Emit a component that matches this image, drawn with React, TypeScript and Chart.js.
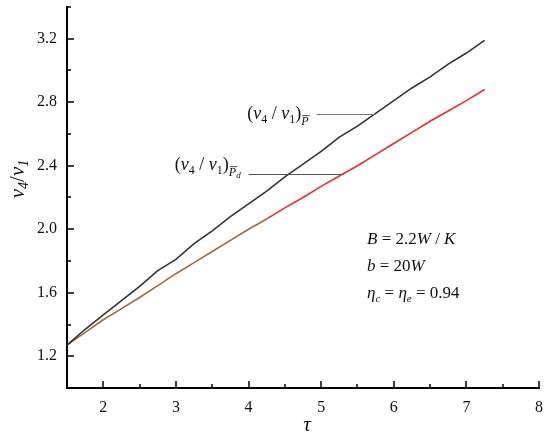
import React, { useEffect, useRef } from 'react';
import { Chart, registerables } from 'chart.js';

Chart.register(...registerables);

const TAU = [1.5, 1.75, 2, 2.25, 2.5, 2.75, 3, 3.25, 3.5, 3.75, 4, 4.25, 4.5, 4.75, 5, 5.25, 5.5, 5.75, 6, 6.25, 6.5, 6.75, 7, 7.25];
const RATIO_P = [1.27, 1.37, 1.46, 1.55, 1.64, 1.74, 1.81, 1.91, 1.99, 2.08, 2.16, 2.24, 2.33, 2.41, 2.49, 2.58, 2.65, 2.73, 2.81, 2.89, 2.96, 3.04, 3.11, 3.19];
const RATIO_PD = [1.27, 1.35, 1.43, 1.5, 1.57, 1.645, 1.72, 1.79, 1.86, 1.93, 2.0, 2.065, 2.135, 2.2, 2.27, 2.335, 2.4, 2.47, 2.54, 2.61, 2.68, 2.745, 2.81, 2.88];
const X_TICKS = [2, 3, 4, 5, 6, 7, 8];
const X_MINOR = [2.5, 3.5, 4.5, 5.5, 6.5, 7.5];
const Y_TICKS = [1.2, 1.6, 2.0, 2.4, 2.8, 3.2];
const Y_MINOR = [1.4, 1.8, 2.2, 2.6, 3.0, 3.4];
const LABEL_P_AT = [5.75, 2.726];
const LABEL_PD_AT = [5.31, 2.348];

const BLACK = '#333333';
const RED = '#ee2a34';
const BROWN = '#a06a3c';
const SERIF = '"Liberation Serif", "Times New Roman", Times, serif';

type Run = { t: string; size: number; italic?: boolean; dy?: number; bar?: boolean; gap?: number };

function runsWidth(ctx: CanvasRenderingContext2D, runs: Run[]) {
  let w = 0;
  for (const r of runs) {
    ctx.font = `${r.italic ? 'italic ' : ''}${r.size}px ${SERIF}`;
    w += ctx.measureText(r.t).width + (r.gap || 0);
  }
  return w;
}

function drawRuns(ctx: CanvasRenderingContext2D, x: number, y: number, runs: Run[]) {
  ctx.textBaseline = 'alphabetic';
  ctx.textAlign = 'left';
  let cx = x;
  for (const r of runs) {
    ctx.font = `${r.italic ? 'italic ' : ''}${r.size}px ${SERIF}`;
    const w = ctx.measureText(r.t).width;
    ctx.fillText(r.t, cx, y + (r.dy || 0));
    if (r.bar) {
      ctx.save();
      ctx.lineWidth = 0.8;
      ctx.strokeStyle = ctx.fillStyle as string;
      ctx.beginPath();
      const by = y + (r.dy || 0) - r.size * 0.78;
      ctx.moveTo(cx + 1, by);
      ctx.lineTo(cx + w + 1, by);
      ctx.stroke();
      ctx.restore();
    }
    cx += w + (r.gap || 0);
  }
  return cx;
}

function ratioLabel(withD: boolean): Run[] {
  const runs: Run[] = [
    { t: '(', size: 18 },
    { t: 'v', size: 18, italic: true },
    { t: '4', size: 12, dy: 4 },
    { t: ' / ', size: 18 },
    { t: 'v', size: 18, italic: true },
    { t: '1', size: 12, dy: 4 },
    { t: ')', size: 18 },
    { t: 'P', size: 12, italic: true, dy: 6, bar: true },
  ];
  if (withD) runs.push({ t: 'd', size: 9, italic: true, dy: 8 });
  return runs;
}

const overlay = {
  id: 'overlay',
  afterDraw(chart: any) {
    const ctx: CanvasRenderingContext2D = chart.ctx;
    const xs = chart.scales.x;
    const ys = chart.scales.y;
    const area = chart.chartArea;
    ctx.save();
    // inward ticks
    ctx.strokeStyle = '#000';
    ctx.lineWidth = 1.5;
    ctx.beginPath();
    for (const v of X_TICKS) {
      const px = Math.round(xs.getPixelForValue(v));
      ctx.moveTo(px, area.bottom);
      ctx.lineTo(px, area.bottom - 7);
    }
    for (const v of X_MINOR) {
      const px = Math.round(xs.getPixelForValue(v));
      ctx.moveTo(px, area.bottom);
      ctx.lineTo(px, area.bottom - 4);
    }
    for (const v of Y_TICKS) {
      const py = Math.round(ys.getPixelForValue(v));
      ctx.moveTo(area.left, py);
      ctx.lineTo(area.left + 7, py);
    }
    for (const v of Y_MINOR) {
      const py = Math.round(ys.getPixelForValue(v));
      ctx.moveTo(area.left, py);
      ctx.lineTo(area.left + 4, py);
    }
    ctx.stroke();

    ctx.fillStyle = '#111';
    // y title
    ctx.save();
    ctx.translate(24, 179);
    ctx.rotate(-Math.PI / 2);
    const yt: Run[] = [
      { t: 'v', size: 21, italic: true },
      { t: '4', size: 14, italic: true, dy: 4 },
      { t: '/', size: 21 },
      { t: 'v', size: 21, italic: true },
      { t: '1', size: 14, italic: true, dy: 4 },
    ];
    drawRuns(ctx, -runsWidth(ctx, yt) / 2, 0, yt);
    ctx.restore();

    // x title
    ctx.font = `italic 21px ${SERIF}`;
    ctx.textAlign = 'center';
    ctx.textBaseline = 'alphabetic';
    ctx.fillText('τ', 307, 431);

    // leader labels
    const l1 = ratioLabel(false);
    const e1x = xs.getPixelForValue(LABEL_P_AT[0]);
    const e1y = ys.getPixelForValue(LABEL_P_AT[1]);
    ctx.strokeStyle = '#777';
    ctx.lineWidth = 1;
    ctx.beginPath();
    ctx.moveTo(e1x - 59, Math.round(e1y) + 0.5);
    ctx.lineTo(e1x, Math.round(e1y) + 0.5);
    ctx.stroke();
    drawRuns(ctx, e1x - 67 - runsWidth(ctx, l1), e1y + 5, l1);

    const l2 = ratioLabel(true);
    const e2x = xs.getPixelForValue(LABEL_PD_AT[0]);
    const e2y = ys.getPixelForValue(LABEL_PD_AT[1]);
    ctx.strokeStyle = '#555';
    ctx.beginPath();
    ctx.moveTo(e2x - 95, Math.round(e2y) + 0.5);
    ctx.lineTo(e2x, Math.round(e2y) + 0.5);
    ctx.stroke();
    drawRuns(ctx, e2x - 103 - runsWidth(ctx, l2), e2y - 4, l2);

    // parameter block
    const px0 = 367;
    drawRuns(ctx, px0, 244, [
      { t: 'B', size: 17, italic: true },
      { t: ' = 2.2', size: 17 },
      { t: 'W', size: 17, italic: true },
      { t: ' / ', size: 17 },
      { t: 'K', size: 17, italic: true },
    ]);
    drawRuns(ctx, px0, 271, [
      { t: 'b', size: 17, italic: true },
      { t: ' = 20', size: 17 },
      { t: 'W', size: 17, italic: true },
    ]);
    drawRuns(ctx, px0, 298, [
      { t: 'η', size: 17, italic: true },
      { t: 'c', size: 11, italic: true, dy: 4 },
      { t: ' = ', size: 17 },
      { t: 'η', size: 17, italic: true },
      { t: 'e', size: 11, italic: true, dy: 4 },
      { t: ' = 0.94', size: 17 },
    ]);
    ctx.restore();
  },
};

export default function App() {
  const ref = useRef<HTMLCanvasElement>(null);
  useEffect(() => {
    if (!ref.current) return;
    let chart: any = null;
    let cancelled = false;
    const build = () => {
      if (cancelled || !ref.current) return;
      chart = new Chart(ref.current, {
        type: 'line',
        data: {
          datasets: [
            {
              label: 'P',
              data: TAU.map((t, i) => ({ x: t, y: RATIO_P[i] })),
              borderColor: BLACK,
              borderWidth: 1.6,
              pointRadius: 0,
              tension: 0,
            },
            {
              label: 'Pd',
              data: TAU.map((t, i) => ({ x: t, y: RATIO_PD[i] })),
              borderColor: RED,
              borderWidth: 1.6,
              pointRadius: 0,
              tension: 0,
              segment: {
                borderColor: (c: any) => (c.p1.parsed.x <= 4.25 ? BROWN : RED),
              },
            },
          ],
        },
        options: {
          animation: false,
          responsive: false,
          devicePixelRatio: 1,
          layout: { padding: { left: 0, top: 7, right: 11, bottom: 0 } },
          plugins: { legend: { display: false }, tooltip: { enabled: false } },
          scales: {
            x: {
              type: 'linear',
              min: 1.5,
              max: 8,
              afterFit: (s: any) => { s.height = 48; s.paddingLeft = 0; s.paddingRight = 0; },
              afterBuildTicks: (s: any) => { s.ticks = X_TICKS.map((v) => ({ value: v })); },
              grid: { display: false, drawTicks: false },
              border: { display: true, width: 2, color: '#000' },
              ticks: {
                padding: 10,
                color: '#111',
                font: { family: SERIF, size: 16 },
                callback: (v: any) => String(v),
              },
            },
            y: {
              type: 'linear',
              min: 1.0,
              max: 3.4,
              afterFit: (s: any) => { s.width = 67; s.paddingTop = 0; s.paddingBottom = 0; },
              afterBuildTicks: (s: any) => { s.ticks = Y_TICKS.map((v) => ({ value: v })); },
              grid: { display: false, drawTicks: false },
              border: { display: true, width: 2, color: '#000' },
              ticks: {
                padding: 10,
                color: '#111',
                font: { family: SERIF, size: 16 },
                callback: (v: any) => Number(v).toFixed(1),
              },
            },
          },
        },
        plugins: [overlay],
      });
    };
    const fonts: any = (document as any).fonts;
    if (fonts && fonts.load) {
      Promise.all([
        fonts.load(`16px "Liberation Serif"`),
        fonts.load(`italic 16px "Liberation Serif"`),
      ]).then(build, build);
    } else {
      build();
    }
    return () => {
      cancelled = true;
      if (chart) chart.destroy();
    };
  }, []);
  return (
    <div style={{ position: 'fixed', left: 0, top: 0, width: 550, height: 436, background: '#fff' }}>
      <canvas ref={ref} width={550} height={436} />
    </div>
  );
}
